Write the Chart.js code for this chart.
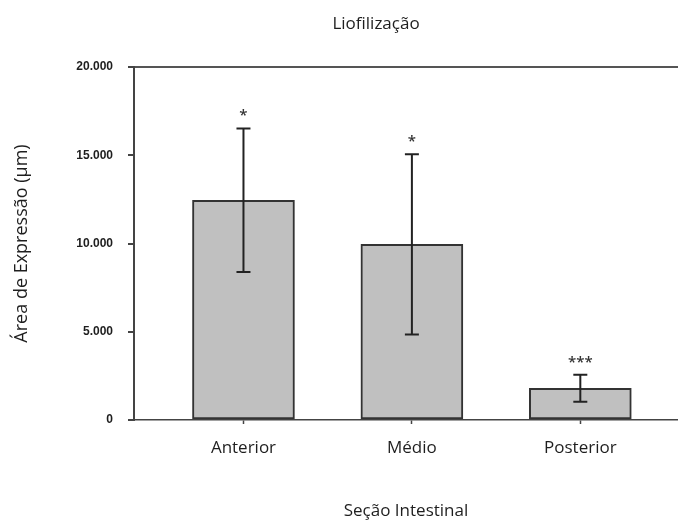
<!DOCTYPE html>
<html>
<head>
<meta charset="utf-8">
<script src="https://cdn.jsdelivr.net/npm/chart.js@4"></script>
<style>
  html, body { margin: 0; padding: 0; background: #fff; }
  #wrap { width: 678px; height: 522px; position: relative; }
</style>
</head>
<body>
<div id="wrap"><canvas id="chart"></canvas></div>
<script>
// dados
const categories = ['Anterior', 'Médio', 'Posterior'];
const means = [12450, 9950, 1800];
const errors = [4070, 5100, 770];
const signif = ['*', '*', '***'];
const yTicks = [0, 5000, 10000, 15000, 20000];

const textColor = '#1e1e1e';
const lineColor = '#444';

// barras de erro + asteriscos, desenhados pelas escalas do Chart.js
const errorBars = {
    id: 'errorBars',
    afterDatasetsDraw(chart) {
        const ctx = chart.ctx;
        const yScale = chart.scales.y;
        const meta = chart.getDatasetMeta(0);
        ctx.save();
        ctx.strokeStyle = '#222';
        ctx.lineWidth = 2;
        meta.data.forEach((bar, i) => {
            const x = bar.x;
            const yTop = yScale.getPixelForValue(means[i] + errors[i]);
            const yBot = yScale.getPixelForValue(means[i] - errors[i]);
            ctx.beginPath();
            ctx.moveTo(x, yTop); ctx.lineTo(x, yBot);
            ctx.moveTo(x - 7, yTop); ctx.lineTo(x + 7, yTop);
            ctx.moveTo(x - 7, yBot); ctx.lineTo(x + 7, yBot);
            ctx.stroke();

            ctx.fillStyle = '#333';
            ctx.font = '600 15px "Open Sans"';
            ctx.textAlign = 'center';
            ctx.textBaseline = 'alphabetic';
            ctx.fillText(signif[i], x, yTop - 8);
        });
        ctx.restore();
    }
};

// título (levemente deslocado à direita, como no original)
const topTitle = {
    id: 'topTitle',
    afterDraw(chart) {
        const ctx = chart.ctx;
        ctx.save();
        ctx.fillStyle = textColor;
        ctx.font = '17px "Open Sans"';
        ctx.textAlign = 'center';
        ctx.textBaseline = 'middle';
        ctx.fillText('Liofilização', 376, 24);
        ctx.restore();
    }
};

new Chart(document.getElementById('chart'), {
    type: 'bar',
    data: {
        datasets: [{
            data: means.map((v, i) => ({ x: i, y: v })),
            backgroundColor: '#c0c0c0',
            borderColor: '#333',
            borderWidth: 2,
            borderSkipped: false,
            barThickness: 102
        }]
    },
    options: {
        responsive: true,
        maintainAspectRatio: false,
        animation: false,
        layout: { padding: { top: 67, right: 0, left: 0, bottom: 0 } },
        plugins: {
            legend: { display: false },
            tooltip: { enabled: false }
        },
        scales: {
            x: {
                type: 'linear',
                offset: false,
                min: -0.65,
                max: 2.58,
                afterBuildTicks: s => { s.ticks = categories.map((c, i) => ({ value: i })); },
                afterFit: s => { s.height = 102; },
                ticks: {
                    callback: v => categories[v],
                    color: textColor,
                    font: { family: 'Open Sans', size: 17 },
                    padding: 14,
                    maxRotation: 0
                },
                grid: {
                    offset: false,
                    drawOnChartArea: false,
                    tickLength: 4,
                    tickColor: lineColor,
                    tickWidth: 1.5
                },
                border: { color: lineColor, width: 1.5 },
                title: {
                    display: true,
                    text: 'Seção Intestinal',
                    color: textColor,
                    font: { family: 'Open Sans', size: 17 },
                    padding: { top: 0, bottom: 1 }
                }
            },
            y: {
                min: 0,
                max: 20000,
                afterBuildTicks: s => { s.ticks = yTicks.map(v => ({ value: v })); },
                afterFit: s => { s.width = 134; },
                ticks: {
                    callback: v => v.toLocaleString('pt-BR'),
                    color: textColor,
                    font: { family: 'Liberation Sans', size: 12, weight: 'bold' },
                    padding: 15
                },
                grid: {
                    color: c => c.tick && c.tick.value === 20000 ? '#555' : 'rgba(0,0,0,0)',
                    lineWidth: 2,
                    tickLength: 6,
                    tickColor: lineColor,
                    tickWidth: 2
                },
                border: { color: lineColor, width: 2 },
                title: {
                    display: true,
                    text: 'Área de Expressão (µm)',
                    color: textColor,
                    font: { family: 'Open Sans', size: 18 },
                    padding: { top: 11, bottom: 0 }
                }
            }
        }
    },
    plugins: [errorBars, topTitle]
});
</script>
</body>
</html>
